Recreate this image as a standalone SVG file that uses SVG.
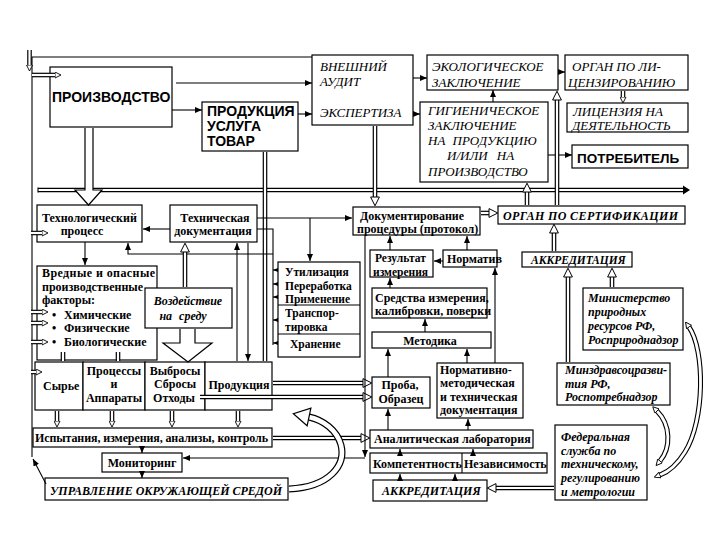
<svg xmlns="http://www.w3.org/2000/svg" width="720" height="540" viewBox="0 0 720 540">
<defs>
<style>
.bx{fill:#fff;stroke:#000;stroke-width:1.2}
.ln{fill:none;stroke:#000;stroke-width:1.1}
.do{fill:none;stroke:#000;stroke-width:4.6}
.di{fill:none;stroke:#fff;stroke-width:2.2}
.cv{fill:none;stroke:#000;stroke-width:7}
.ci{fill:none;stroke:#fff;stroke-width:4.6}
.cv2{fill:none;stroke:#000;stroke-width:5}
.ci2{fill:none;stroke:#fff;stroke-width:2.8}
.oa{fill:#fff;stroke:#000;stroke-width:1.2}
text{fill:#000}
.sb{font-family:"Liberation Sans",Arial,sans-serif;font-weight:bold;font-size:14px}
.ti{font-family:"Liberation Serif","Times New Roman",serif;font-style:italic;font-size:13px}
.b{font-family:"Liberation Serif","Times New Roman",serif;font-weight:bold;font-size:12px}
.bs{font-family:"Liberation Serif","Times New Roman",serif;font-weight:bold;font-size:11.5px}
.bi{font-family:"Liberation Serif","Times New Roman",serif;font-weight:bold;font-style:italic;font-size:12px}
.m{text-anchor:middle}
</style>
<marker id="ah" viewBox="0 0 7 6" refX="7" refY="3" markerWidth="7" markerHeight="6" markerUnits="userSpaceOnUse" orient="auto"><path d="M0,0 L7,3 L0,6 Z" fill="#000"/></marker>
<marker id="ahs" viewBox="0 0 5 4" refX="5" refY="2" markerWidth="5" markerHeight="4" markerUnits="userSpaceOnUse" orient="auto"><path d="M0,0 L5,2 L0,4 Z" fill="#000"/></marker>
<marker id="oh" viewBox="0 0 10 10" refX="0.6" refY="5" markerWidth="10" markerHeight="10" markerUnits="userSpaceOnUse" orient="auto"><path d="M0.6,0.6 L9.4,5 L0.6,9.4 Z" fill="#fff" stroke="#000" stroke-width="1"/></marker>
<marker id="ohs" viewBox="0 0 7 7" refX="0.5" refY="3.5" markerWidth="7" markerHeight="7" markerUnits="userSpaceOnUse" orient="auto-start-reverse"><path d="M0.5,0.5 L6.5,3.5 L0.5,6.5 Z" fill="#fff" stroke="#000" stroke-width="0.9"/></marker>
<marker id="ohb" viewBox="0 0 18 20" refX="1" refY="10" markerWidth="18" markerHeight="20" markerUnits="userSpaceOnUse" orient="auto"><path d="M1,1 L17,10 L1,19 Z" fill="#fff" stroke="#000" stroke-width="1.2"/></marker>
</defs>
<rect width="720" height="540" fill="#fff"/>

<g id="proizvodstvo"><rect class="bx" x="50" y="67" width="122" height="60"/><text class="sb" x="52" y="102">ПРОИЗВОДСТВО</text></g>
<g id="produkciya"><rect class="bx" x="202" y="102" width="96" height="49"/><text class="sb" x="207" y="116">ПРОДУКЦИЯ</text><text class="sb" x="207" y="131">УСЛУГА</text><text class="sb" x="207" y="146">ТОВАР</text></g>
<g id="audit"><rect class="bx" x="312" y="55" width="101" height="70"/><text class="ti" x="320" y="71">ВНЕШНИЙ</text><text class="ti" x="320" y="86">АУДИТ</text><text class="ti" x="320" y="117">ЭКСПЕРТИЗА</text></g>
<g id="eco"><rect class="bx" x="427" y="55" width="131" height="35"/><text class="ti" x="432" y="71">ЭКОЛОГИЧЕСКОЕ</text><text class="ti" x="432" y="87">ЗАКЛЮЧЕНИЕ</text></g>
<g id="licorgan"><rect class="bx" x="565" y="55" width="123" height="35"/><text class="ti" x="572" y="71">ОРГАН ПО ЛИ-</text><text class="ti" x="568" y="87">ЦЕНЗИРОВАНИЮ</text></g>
<g id="license"><rect class="bx" x="567" y="103" width="121" height="29"/><text class="ti" x="573" y="116">ЛИЦЕНЗИЯ НА</text><text class="ti" x="572" y="130">ДЕЯТЕЛЬНОСТЬ</text></g>
<g id="gig"><rect class="bx" x="420" y="102" width="128" height="80"/><text class="ti" x="428" y="115">ГИГИЕНИЧЕСКОЕ</text><text class="ti" x="428" y="130">ЗАКЛЮЧЕНИЕ</text><text class="ti" x="428" y="145" word-spacing="4">НА ПРОДУКЦИЮ</text><text class="ti" x="447" y="160" word-spacing="6">И/ИЛИ НА</text><text class="ti" x="428" y="176">ПРОИЗВОДСТВО</text></g>
<g id="consumer"><rect class="bx" x="572" y="145" width="116" height="23"/><text class="sb" x="577" y="163" style="font-size:13.5px">ПОТРЕБИТЕЛЬ</text></g>

<g id="tehproc"><rect class="bx" x="37" y="205" width="105" height="37"/><text class="b" x="42" y="222">Технологический</text><text class="b m" x="82" y="235">процесс</text></g>
<g id="tehdoc"><rect class="bx" x="170" y="205" width="87" height="37"/><text class="b m" x="215" y="222">Техническая</text><text class="b m" x="213" y="235">документация</text></g>
<g id="hazard"><rect class="bx" x="37" y="266" width="120" height="94"/><text class="b" x="42" y="277" textLength="113">Вредные и опасные</text><text class="b" x="42" y="291">производственные</text><text class="b" x="42" y="304">факторы:</text><text class="b" y="319"><tspan x="52">•</tspan><tspan x="64">Химические</tspan></text><text class="b" y="332"><tspan x="52">•</tspan><tspan x="64">Физические</tspan></text><text class="b" y="346"><tspan x="52">•</tspan><tspan x="64">Биологические</tspan></text></g>
<g id="impact"><rect class="bx" x="145" y="288" width="87" height="40"/><text class="bi m" x="188" y="305">Воздействие</text><text class="bi m" x="183" y="320" word-spacing="4">на среду</text></g>
<g id="utiliz"><rect class="bx" x="278" y="262" width="82" height="95"/><path class="ln" d="M278,305 H360 M278,334 H360"/><text class="bs" x="285" y="276">Утилизация</text><text class="bs" x="285" y="290">Переработка</text><text class="bs" x="285" y="303">Применение</text><text class="bs" x="285" y="317">Транспор-</text><text class="bs" x="285" y="331">тировка</text><text class="bs" x="290" y="348">Хранение</text></g>

<g id="syrye"><rect class="bx" x="35" y="362" width="48" height="48"/><text class="b" x="43" y="390">Сырье</text></g>
<g id="processes"><rect class="bx" x="83" y="362" width="62" height="48"/><text class="b m" x="114" y="375">Процессы</text><text class="b m" x="114" y="388">и</text><text class="b m" x="114" y="402">Аппараты</text></g>
<g id="emissions"><rect class="bx" x="145" y="362" width="60" height="48"/><text class="b m" x="175" y="375">Выбросы</text><text class="b m" x="175" y="388">Сбросы</text><text class="b m" x="174" y="402">Отходы</text></g>
<g id="product"><rect class="bx" x="205" y="362" width="67" height="48"/><text class="b m" x="239" y="389">Продукция</text></g>
<g id="tests"><rect class="bx" x="33" y="428" width="239" height="19"/><text class="b" x="35" y="442" textLength="233">Испытания, измерения, анализы, контроль</text></g>
<g id="monitoring"><rect class="bx" x="102" y="453" width="80" height="19"/><text class="b m" x="142" y="467">Мониторинг</text></g>
<g id="management"><rect class="bx" x="45" y="478" width="243" height="22"/><text class="bi" x="50" y="495" textLength="232">УПРАВЛЕНИЕ ОКРУЖАЮЩЕЙ СРЕДОЙ</text></g>

<g id="docproc"><rect class="bx" x="353" y="207" width="127" height="28"/><text class="b" x="360" y="220">Документирование</text><text class="b" x="357" y="233">процедуры (протокол)</text></g>
<g id="certorgan"><rect class="bx" x="498" y="206" width="187" height="18"/><text class="bi" x="503" y="220" textLength="175">ОРГАН ПО СЕРТИФИКАЦИИ</text></g>
<g id="result"><rect class="bx" x="370" y="250" width="63" height="27"/><text class="b" x="375" y="262" style="font-size:11.5px">Результат</text><text class="b" x="373" y="276" style="font-size:11.5px">измерения</text></g>
<g id="norm"><rect class="bx" x="443" y="250" width="54" height="17"/><text class="b" x="447" y="263">Норматив</text></g>
<g id="accr1"><rect class="bx" x="522" y="252" width="110" height="15"/><text class="bi" x="531" y="264" style="font-size:11.5px">АККРЕДИТАЦИЯ</text></g>
<g id="instr"><rect class="bx" x="372" y="288" width="115" height="30"/><text class="b" x="375" y="302">Средства измерения,</text><text class="b" x="375" y="315">калибровки, поверки</text></g>
<g id="minprir"><rect class="bx" x="583" y="288" width="100" height="62"/><text class="bi" x="588" y="302">Министерство</text><text class="bi" x="588" y="316">природных</text><text class="bi" x="588" y="330">ресурсов РФ,</text><text class="bi" x="588" y="344">Росприроднадзор</text></g>
<g id="method"><rect class="bx" x="372" y="332" width="119" height="16"/><text class="b m" x="430" y="345">Методика</text></g>
<g id="sample"><rect class="bx" x="372" y="377" width="58" height="31"/><text class="b m" x="400" y="389">Проба,</text><text class="b m" x="401" y="403">Образец</text></g>
<g id="normdoc"><rect class="bx" x="437" y="363" width="86" height="55"/><text class="b" x="440" y="374">Нормативно-</text><text class="b" x="440" y="387">методическая</text><text class="b" x="440" y="401">и техническая</text><text class="b" x="440" y="414">документация</text></g>
<g id="minzdrav"><rect class="bx" x="557" y="363" width="113" height="42"/><text class="bi" x="565" y="374">Минздравсоцразви-</text><text class="bi" x="565" y="388">тия РФ,</text><text class="bi" x="565" y="401">Роспотребнадзор</text></g>
<g id="lab"><rect class="bx" x="370" y="430" width="163" height="18"/><text class="b" x="374" y="443">Аналитическая лаборатория</text></g>
<g id="fed"><rect class="bx" x="555" y="425" width="92" height="75"/><text class="bi" x="561" y="441">Федеральная</text><text class="bi" x="561" y="455">служба по</text><text class="bi" x="561" y="468">техническому,</text><text class="bi" x="561" y="482">регулированию</text><text class="bi" x="561" y="496">и метрологии</text></g>
<g id="compet"><rect class="bx" x="370" y="453" width="177" height="20"/><path class="ln" d="M462,453 V473"/><text class="b" x="373" y="468">Компетентность</text><text class="b" x="464" y="468">Независимость</text></g>
<g id="accr2"><rect class="bx" x="373" y="480" width="114" height="21"/><text class="bi" x="382" y="495">АККРЕДИТАЦИЯ</text></g>

<g id="connectors">
<path class="ln" d="M32,57 H312 M32,57 V457"/>
<path class="ln" d="M46,484 L33,459" marker-end="url(#ah)"/>
<path class="do" d="M29.5,50 V65"/><path class="di" d="M29.5,50 V65" marker-end="url(#ohs)"/>
<path class="do" d="M32,75 H55"/><path class="di" d="M32,75 H55" marker-end="url(#ohs)"/>
<path class="ln" d="M172,110 H202" marker-end="url(#ah)"/>
<path class="ln" d="M176,83 H312" marker-end="url(#ah)"/>
<path class="ln" d="M298,114 H312" marker-end="url(#ah)"/>
<path class="ln" d="M413,78 H427" marker-end="url(#ah)"/>
<path class="ln" d="M413,114 H420" marker-end="url(#ah)"/>
<path class="ln" d="M558,72 H565" marker-end="url(#ah)"/>
<path class="ln" d="M493,102 V90" marker-end="url(#ah)"/>
<path class="ln" d="M548,155 H572" marker-end="url(#ah)"/>
<path class="do" d="M623,91 V97"/><path class="di" d="M623,91 V97" marker-end="url(#ohs)"/>
<path class="do" d="M38,190 H684"/><path class="di" d="M38,190 H684"/>
<path class="ln" d="M38,187.5 V192.5"/>
<path d="M683,185.5 L690,190 L683,194.5 Z" fill="#000"/>
<path class="oa" d="M85,128 V190 H75 L88.5,205 L102,190 H93 V128"/>
<path class="do" d="M557,205 V100"/><path class="di" d="M557,205 V100" marker-end="url(#oh)"/>
<path class="do" d="M527,205 V192"/><path class="di" d="M527,205 V192" marker-end="url(#oh)"/>
<path class="do" d="M375,126 V197"/><path class="di" d="M375,126 V197" marker-end="url(#oh)"/>
<path class="do" d="M265,152 V361"/><path class="di" d="M265,152 V361"/>
<path class="ln" d="M257,218 H352" marker-end="url(#ah)"/>
<path class="ln" d="M257,229 H273 V345"/>
<path class="ln" d="M278,270 H273" marker-end="url(#ahs)"/>
<path class="ln" d="M278,284 H273" marker-end="url(#ahs)"/>
<path class="ln" d="M278,297 H273" marker-end="url(#ahs)"/>
<path class="ln" d="M278,320 H273" marker-end="url(#ahs)"/>
<path class="ln" d="M278,343 H273" marker-end="url(#ahs)"/>
<path class="ln" d="M273,254 H128 V243" marker-end="url(#ah)"/>
<path class="ln" d="M310,218 V261" marker-end="url(#ah)"/>
<path class="ln" d="M85,242 V265" marker-end="url(#ah)"/>
<path class="ln" d="M170,229 H143" marker-end="url(#ah)"/>
<path class="do" d="M185,287 V252"/><path class="di" d="M185,287 V252" marker-end="url(#oh)"/>
<path class="ln" d="M237,361 V243" marker-end="url(#ah)"/>
<path class="ln" d="M248,243 V361" marker-end="url(#ah)"/>
<path class="do" d="M31,233 H42 M31,312 H42 M31,323 H42 M31,342 H42 M31,372 H36"/>
<path class="di" d="M31,233 H42" marker-end="url(#ohs)"/>
<path class="di" d="M31,312 H42" marker-end="url(#ohs)"/>
<path class="di" d="M31,323 H42" marker-end="url(#ohs)"/>
<path class="di" d="M31,342 H42" marker-end="url(#ohs)"/>
<path class="di" d="M31,372 H36" marker-end="url(#ohs)"/>
<path class="do" d="M63,352 V361 M118,352 V361"/><path class="di" d="M63,352 V361 M118,352 V361"/>
<path class="oa" d="M180,329 V343 H163 L188,362 L212,343 H195 V329"/>
<path class="do" d="M57,411 V421 M112,411 V421 M172,411 V421 M238,411 V421"/>
<path class="di" d="M57,411 V421" marker-end="url(#ohs)"/>
<path class="di" d="M112,411 V421" marker-end="url(#ohs)"/>
<path class="di" d="M172,411 V421" marker-end="url(#ohs)"/>
<path class="di" d="M238,411 V421" marker-end="url(#ohs)"/>
<path class="do" d="M273,383 H363"/><path class="di" d="M273,383 H363" marker-end="url(#oh)"/>
<path class="do" d="M200,397 H363"/><path class="di" d="M200,397 H363" marker-end="url(#oh)"/>
<path class="do" d="M273,438 H361"/><path class="di" d="M273,438 H361" marker-end="url(#oh)"/>
<path class="ln" d="M365,236 V457" marker-end="url(#ah)"/>
<path class="ln" d="M365,458 H183" marker-end="url(#ah)"/>
<path class="ln" d="M142,447 V453" marker-end="url(#ah)"/>
<path class="ln" d="M142,472 V478" marker-end="url(#ah)"/>
<path class="cv" d="M289,489 C330,487 346,465 341,445 C337,430 323,420 309,417"/>
<path class="ci" d="M289,489 C330,487 346,465 341,445 C337,430 323,420 309,417" marker-end="url(#ohb)"/>
<path class="do" d="M481,213 H489"/><path class="di" d="M481,213 H489" marker-end="url(#oh)"/>
<path class="ln" d="M390,250 V236" marker-end="url(#ah)"/>
<path class="ln" d="M467,250 V236" marker-end="url(#ah)"/>
<path class="ln" d="M443,261 H434" marker-end="url(#ah)"/>
<path class="ln" d="M390,288 V278" marker-end="url(#ah)"/>
<path class="ln" d="M425,332 V319" marker-end="url(#ah)"/>
<path class="ln" d="M388,377 V349" marker-end="url(#ah)"/>
<path class="ln" d="M467,363 V349" marker-end="url(#ah)"/>
<path class="ln" d="M495,363 V268" marker-end="url(#ah)"/>
<path class="ln" d="M388,430 V409" marker-end="url(#ah)"/>
<path class="ln" d="M468,430 V419" marker-end="url(#ah)"/>
<path class="ln" d="M400,453 V449" marker-end="url(#ah)"/>
<path class="ln" d="M473,453 V449" marker-end="url(#ah)"/>
<path class="ln" d="M400,480 V474" marker-end="url(#ah)"/>
<path class="ln" d="M455,480 V474" marker-end="url(#ah)"/>
<path class="do" d="M554,488 H496"/><path class="di" d="M554,488 H496" marker-end="url(#oh)"/>
<path class="do" d="M554,251 V233"/><path class="di" d="M554,251 V233" marker-end="url(#oh)"/>
<path class="do" d="M568,362 V277"/><path class="di" d="M568,362 V277" marker-end="url(#oh)"/>
<path class="do" d="M612,287 V277"/><path class="di" d="M612,287 V277" marker-end="url(#oh)"/>
<path class="cv2" d="M689,327 C705,350 705,420 685,452 C677,465 668,472 660,475"/>
<path class="ci2" d="M689,327 C705,350 705,420 685,452 C677,465 668,472 660,475" marker-start="url(#ohs)" marker-end="url(#ohs)"/>
<path class="cv2" d="M657,411 C671,425 671,448 660,461"/>
<path class="ci2" d="M657,411 C671,425 671,448 660,461" marker-start="url(#ohs)" marker-end="url(#ohs)"/>
</g>
</svg>
